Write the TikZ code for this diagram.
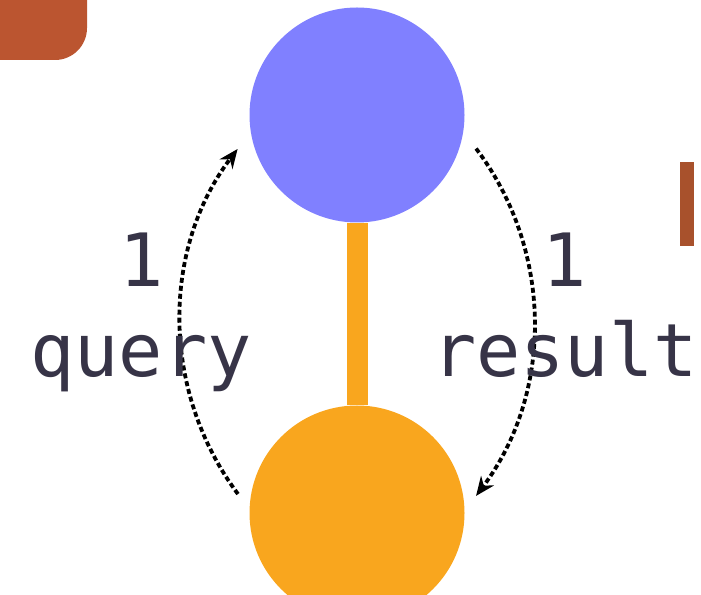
\documentclass[tikz,border=0pt]{standalone}
\usepackage{fontspec}
\setmonofont{DejaVu Sans Mono}
\usepackage{tikz}
\usetikzlibrary{arrows.meta}
\usepackage{xcolor}
\definecolor{peerblue}{RGB}{128,128,255}
\definecolor{hostorange}{RGB}{249,166,30}
\definecolor{inkgray}{RGB}{55,52,71}
\definecolor{rustcorner}{RGB}{187,85,48}
\definecolor{rustbar}{RGB}{168,81,44}

\begin{document}
\begin{tikzpicture}[x=1pt,y=1pt,
    every node/.style={font=\ttfamily\fontsize{73.5}{80}\selectfont,text=inkgray},
    msg/.style={-{Stealth[length=19pt,width=16pt]},line width=3.8pt,
                dash pattern=on 5pt off 3pt,bend left=37}]
  \useasboundingbox (0,0) rectangle (701,594);
  \clip (0,0) rectangle (701,594);
  % stray shapes at the edges
  \fill[rustcorner,rounded corners=32pt] (-40,534) rectangle (87,650);
  \fill[rustbar] (680,348) rectangle (694,432);
  % the two ends and the link between them
  \node[circle,fill=peerblue,minimum size=215pt,inner sep=0pt]
    (top) at (357,479) {};
  \node[circle,fill=hostorange,minimum size=215pt,inner sep=0pt]
    (bot) at (357,81) {};
  \draw[line width=21pt,hostorange] (top.south)--(bot.north);
  % messages
  \draw[msg,shorten <=19pt,shorten >=21.5pt] (bot.178)  to (top.189.5);
  \draw[msg,shorten <=21pt,shorten >=19pt] (top.351.3)  to (bot.1.5);
  \node[anchor=base] (qcount) at (142,307) {1};
  \node[anchor=base] (qlabel) at (141,217) {query};
  \node[anchor=base] (rcount) at (565,307) {1};
  \node[anchor=base] (rlabel) at (565,217) {result};
\end{tikzpicture}
\end{document}
